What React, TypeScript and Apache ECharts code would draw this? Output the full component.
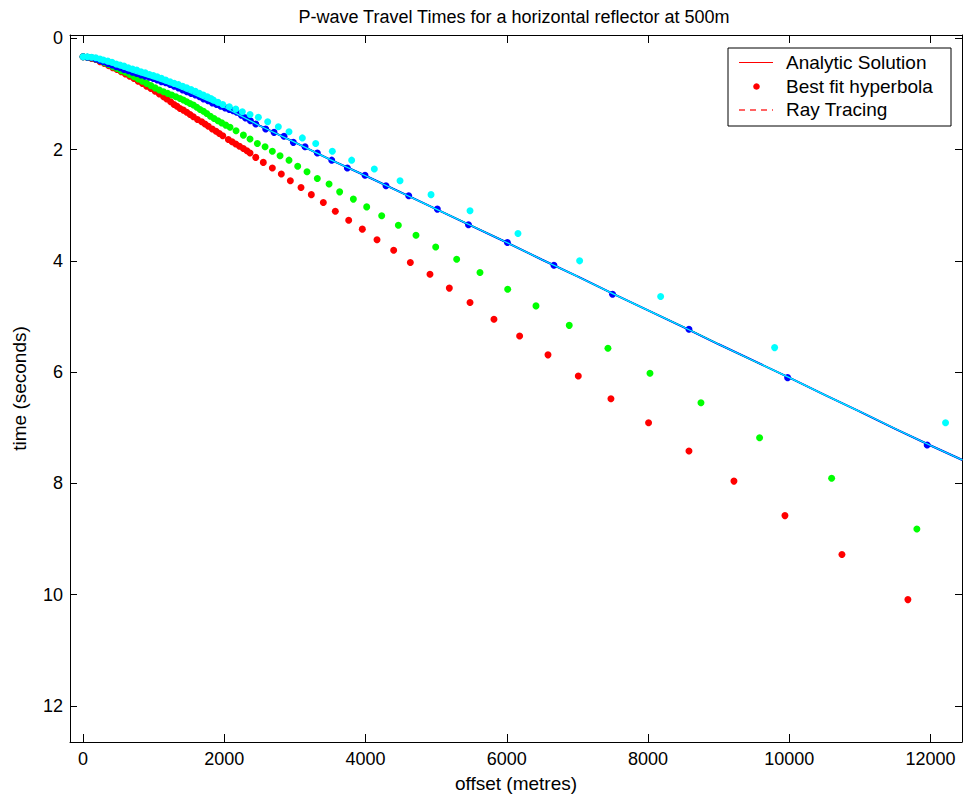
import React, { useEffect, useRef } from "react";
import * as echarts from "echarts";

const TITLE = "P-wave Travel Times for a horizontal reflector at 500m";
const X_NAME = "offset (metres)";
const Y_NAME = "time (seconds)";
const X_TICKS = [0, 2000, 4000, 6000, 8000, 10000, 12000];
const Y_TICKS = [0, 2, 4, 6, 8, 10, 12];
const LEGEND_NAMES = ["Analytic Solution", "Best fit hyperbola", "Ray Tracing"];

// Analytic solution / ray tracing curve (offset m, time s)
const LINE_X = [0, 250, 500, 750, 1000, 1250, 1500, 1750, 2000, 2500, 3000, 3500, 4000, 4500, 5000, 5500, 6000, 6500, 7000, 7500, 8000, 8500, 9000, 9500, 10000, 10500, 11000, 11500, 12000, 12450];
const LINE_T = [0.33, 0.41, 0.52, 0.63, 0.73, 0.84, 0.97, 1.11, 1.24, 1.57, 1.87, 2.18, 2.47, 2.77, 3.07, 3.37, 3.67, 3.98, 4.28, 4.59, 4.89, 5.19, 5.5, 5.8, 6.1, 6.41, 6.71, 7.02, 7.32, 7.58];

// Best fit hyperbola points, red
const RED_X = [0, 60, 120, 180, 240, 300, 360, 420, 480, 540, 600, 660, 720, 780, 840, 900, 960, 1020, 1080, 1140, 1185, 1240, 1288, 1330, 1373, 1420, 1468, 1515, 1562, 1620, 1680, 1727, 1774, 1830, 1883, 1930, 1978, 2057, 2110, 2162, 2215, 2270, 2320, 2364, 2445, 2552, 2680, 2807, 2935, 3086, 3232, 3402, 3572, 3761, 3954, 4162, 4398, 4634, 4912, 5186, 5479, 5818, 6181, 6583, 7012, 7474, 8007, 8579, 9216, 9938, 10745, 11679];
const RED_T = [0.33, 0.34, 0.36, 0.38, 0.42, 0.45, 0.49, 0.53, 0.56, 0.6, 0.64, 0.68, 0.72, 0.77, 0.81, 0.86, 0.9, 0.95, 1.0, 1.05, 1.09, 1.14, 1.19, 1.22, 1.26, 1.29, 1.33, 1.37, 1.41, 1.46, 1.5, 1.54, 1.58, 1.63, 1.67, 1.71, 1.75, 1.82, 1.86, 1.9, 1.94, 1.98, 2.02, 2.06, 2.14, 2.23, 2.33, 2.44, 2.56, 2.68, 2.81, 2.95, 3.11, 3.27, 3.43, 3.62, 3.81, 4.03, 4.24, 4.49, 4.75, 5.05, 5.35, 5.69, 6.07, 6.48, 6.91, 7.42, 7.96, 8.58, 9.28, 10.09];

// green
const GREEN_X = [0, 60, 120, 180, 240, 300, 360, 420, 480, 540, 600, 660, 720, 780, 840, 900, 960, 1020, 1080, 1140, 1200, 1256, 1315, 1373, 1420, 1468, 1515, 1562, 1610, 1657, 1705, 1751, 1803, 1855, 1910, 1963, 2020, 2081, 2166, 2270, 2364, 2468, 2577, 2680, 2789, 2916, 3039, 3171, 3317, 3483, 3633, 3827, 4016, 4228, 4464, 4714, 4993, 5290, 5620, 6012, 6413, 6884, 7432, 8027, 8749, 9579, 10599, 11806];
const GREEN_T = [0.33, 0.34, 0.35, 0.37, 0.4, 0.44, 0.47, 0.51, 0.54, 0.58, 0.61, 0.65, 0.69, 0.73, 0.77, 0.81, 0.85, 0.89, 0.93, 0.96, 0.99, 1.02, 1.05, 1.08, 1.11, 1.14, 1.17, 1.2, 1.24, 1.28, 1.31, 1.35, 1.4, 1.44, 1.48, 1.52, 1.56, 1.6, 1.66, 1.74, 1.81, 1.89, 1.95, 2.03, 2.11, 2.19, 2.3, 2.4, 2.52, 2.62, 2.76, 2.89, 3.03, 3.19, 3.36, 3.54, 3.75, 3.97, 4.21, 4.51, 4.81, 5.16, 5.57, 6.02, 6.55, 7.18, 7.91, 8.82];

// blue
const BLUE_X = [0, 60, 120, 180, 240, 288, 350, 410, 470, 524, 580, 640, 700, 760, 820, 880, 940, 995, 1050, 1110, 1170, 1232, 1290, 1350, 1410, 1470, 1530, 1590, 1650, 1706, 1770, 1830, 1890, 1950, 2010, 2070, 2125, 2176, 2240, 2300, 2370, 2445, 2586, 2704, 2845, 2977, 3143, 3317, 3521, 3742, 3992, 4289, 4611, 5016, 5457, 6008, 6667, 7497, 8579, 9976, 11952];
const BLUE_T = [0.33, 0.34, 0.35, 0.37, 0.4, 0.42, 0.45, 0.48, 0.51, 0.53, 0.56, 0.58, 0.61, 0.63, 0.66, 0.68, 0.7, 0.72, 0.75, 0.78, 0.8, 0.83, 0.86, 0.89, 0.93, 0.96, 0.99, 1.02, 1.05, 1.09, 1.12, 1.16, 1.19, 1.22, 1.25, 1.28, 1.3, 1.33, 1.38, 1.43, 1.48, 1.54, 1.63, 1.69, 1.76, 1.87, 1.95, 2.06, 2.19, 2.33, 2.46, 2.65, 2.83, 3.07, 3.35, 3.67, 4.08, 4.6, 5.23, 6.1, 7.31];

// cyan
const CYAN_X = [0, 60, 120, 180, 240, 288, 350, 410, 470, 524, 580, 640, 700, 760, 820, 880, 940, 995, 1050, 1110, 1170, 1232, 1290, 1350, 1410, 1468, 1530, 1590, 1650, 1703, 1760, 1810, 1845, 1910, 1978, 2071, 2162, 2255, 2364, 2482, 2614, 2765, 2916, 3105, 3294, 3529, 3803, 4124, 4488, 4927, 5479, 6158, 7031, 8178, 9792, 12212];
const CYAN_T = [0.33, 0.33, 0.34, 0.35, 0.37, 0.39, 0.41, 0.43, 0.46, 0.48, 0.5, 0.53, 0.55, 0.57, 0.6, 0.62, 0.65, 0.67, 0.69, 0.72, 0.75, 0.78, 0.81, 0.83, 0.86, 0.89, 0.92, 0.95, 0.99, 1.02, 1.05, 1.08, 1.11, 1.15, 1.19, 1.23, 1.27, 1.32, 1.37, 1.42, 1.5, 1.59, 1.68, 1.79, 1.89, 2.03, 2.19, 2.35, 2.56, 2.81, 3.1, 3.51, 4.0, 4.64, 5.56, 6.91];

const FONT = "'Liberation Sans', Arial, Helvetica, sans-serif";

const zip = (xs: number[], ys: number[]) => xs.map((x, i) => [x, ys[i]]);

export default function App() {
  const ref = useRef<HTMLDivElement>(null);
  useEffect(() => {
    if (!ref.current) return;
    const chart = echarts.init(ref.current, null, { renderer: "svg" });
    const axisCommon = {
      type: "value",
      splitLine: { show: false },
      axisLine: { show: true, onZero: false, lineStyle: { color: "#000", width: 1 } },
    };
    const xMin = -185, xMax = 12445, yMin = -0.06, yMax = 12.65;
    const line = zip(LINE_X, LINE_T);
    const lineSeries = (color: string, width: number, z: number, type = "solid", name = LEGEND_NAMES[0]) => ({
      type: "line",
      name,
      data: line,
      showSymbol: false,
      symbol: "none",
      lineStyle: { color, width, type },
      z,
      silent: true,
    });
    const dotSeries = (xs: number[], ts: number[], color: string, z: number) => ({
      type: "scatter",
      name: LEGEND_NAMES[1],
      data: zip(xs, ts),
      symbol: "circle",
      symbolSize: 7,
      itemStyle: { color, opacity: 1 },
      z,
      silent: true,
    });
    const fmt = (v: number) => String(v);
    chart.setOption({
      animation: false,
      backgroundColor: "#fff",
      title: {
        text: TITLE,
        left: 509,
        textAlign: "center",
        top: 3,
        textStyle: { fontFamily: FONT, fontSize: 18, fontWeight: "normal", color: "#000" },
      },
      grid: { left: 70, top: 35, right: 1, bottom: 55, containLabel: false, outerBoundsMode: "none" },
      xAxis: [
        {
          ...axisCommon,
          min: xMin,
          max: xMax,
          position: "bottom",
          name: X_NAME,
          nameLocation: "middle",
          nameGap: 32,
          nameTextStyle: { fontFamily: FONT, fontSize: 19, color: "#000" },
          axisTick: { show: true, inside: true, length: 8, customValues: X_TICKS, lineStyle: { color: "#000" } },
          axisLabel: { show: true, customValues: X_TICKS, formatter: fmt, margin: 8, fontFamily: FONT, fontSize: 18, color: "#000" },
        },
        {
          ...axisCommon,
          min: xMin,
          max: xMax,
          position: "top",
          axisTick: { show: true, inside: true, length: 8, customValues: X_TICKS, lineStyle: { color: "#000" } },
          axisLabel: { show: false },
        },
      ],
      yAxis: [
        {
          ...axisCommon,
          min: yMin,
          max: yMax,
          inverse: true,
          position: "left",
          name: Y_NAME,
          nameLocation: "middle",
          nameGap: 41,
          nameRotate: 90,
          nameTextStyle: { fontFamily: FONT, fontSize: 19, color: "#000" },
          axisTick: { show: true, inside: true, length: 7, customValues: Y_TICKS, lineStyle: { color: "#000" } },
          axisLabel: { show: true, customValues: Y_TICKS, formatter: fmt, margin: 7, fontFamily: FONT, fontSize: 18, color: "#000" },
        },
        {
          ...axisCommon,
          min: yMin,
          max: yMax,
          inverse: true,
          position: "right",
          axisTick: { show: true, inside: true, length: 7, customValues: Y_TICKS, lineStyle: { color: "#000" } },
          axisLabel: { show: false },
        },
      ],
      series: [
        lineSeries("#ff0000", 1, 2),
        lineSeries("#ff0000", 1, 2, "dashed", LEGEND_NAMES[2]),
        dotSeries(RED_X, RED_T, "#ff0000", 3),
        lineSeries("#00ff00", 1.5, 4),
        dotSeries(GREEN_X, GREEN_T, "#00ff00", 5),
        lineSeries("#0000ff", 2, 6),
        dotSeries(BLUE_X, BLUE_T, "#0000ff", 7),
        lineSeries("#00ffff", 1.2, 8),
        dotSeries(CYAN_X, CYAN_T, "#00ffff", 9),
      ],
      graphic: [
        {
          type: "group",
          z: 100,
          children: [
            { type: "rect", shape: { x: 728, y: 48, width: 223, height: 78 }, style: { fill: "#fff", stroke: "#000", lineWidth: 1 } },
            { type: "line", shape: { x1: 739, y1: 62.5, x2: 773, y2: 62.5 }, style: { stroke: "#ff0000", lineWidth: 1 } },
            { type: "text", x: 786, y: 62.5, style: { text: LEGEND_NAMES[0], fontFamily: FONT, fontSize: 19, fill: "#000", verticalAlign: "middle" } },
            { type: "circle", shape: { cx: 756.5, cy: 86.5, r: 3.3 }, style: { fill: "#ff0000" } },
            { type: "text", x: 786, y: 86.5, style: { text: LEGEND_NAMES[1], fontFamily: FONT, fontSize: 19, fill: "#000", verticalAlign: "middle" } },
            { type: "line", shape: { x1: 739, y1: 110, x2: 773, y2: 110 }, style: { stroke: "#ff3030", lineWidth: 1.3, lineDash: [6, 5] } },
            { type: "text", x: 786, y: 109.5, style: { text: LEGEND_NAMES[2], fontFamily: FONT, fontSize: 19, fill: "#000", verticalAlign: "middle" } },
          ],
        },
      ],
    });
    return () => chart.dispose();
  }, []);
  return <div ref={ref} style={{ position: "absolute", left: 0, top: 0, width: 963, height: 797 }} />;
}
